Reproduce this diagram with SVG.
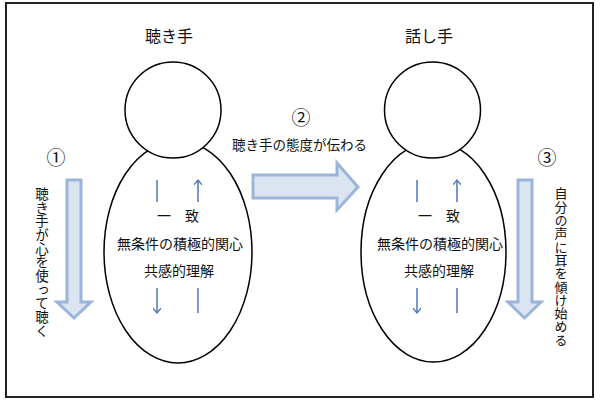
<svg xmlns="http://www.w3.org/2000/svg" width="600" height="403" viewBox="0 0 600 403">
<defs>
<style>
.t{font-family:"Noto Sans CJK JP","Noto Sans CJK SC",sans-serif;fill:#111;}
.hd{font-size:16px;text-anchor:middle;}
.in{font-size:14px;text-anchor:middle;}
.num{font-size:19px;text-anchor:middle;}
.vt{writing-mode:vertical-rl;text-orientation:upright;}
.body{fill:#fff;stroke:#000;stroke-width:1.5;}
.big{fill:#dbe5f1;stroke:#9ab5d8;stroke-width:3;stroke-linejoin:miter;}
.bl{stroke:#4a7ab5;stroke-width:1.5;fill:none;}
</style>
<marker id="ah" viewBox="0 0 10 10" refX="8" refY="5" markerWidth="8" markerHeight="8" orient="auto" markerUnits="userSpaceOnUse">
<path d="M2,0 L8,5 L2,10" fill="none" stroke="#4a7ab5" stroke-width="1.6"/>
</marker>
</defs>
<rect x="0" y="0" width="600" height="403" fill="#fff"/>
<rect x="6" y="3" width="587" height="394" fill="#fff" stroke="#222" stroke-width="2"/>

<g id="listener">
<text class="t hd" x="169" y="42">聴き手</text>
<ellipse class="body" cx="178" cy="252" rx="74" ry="111"/>
<circle class="body" cx="173" cy="110" r="48"/>
<text class="t in" x="178" y="221">一　致</text>
<text class="t in" x="180" y="249">無条件の積極的関心</text>
<text class="t in" x="179" y="276">共感的理解</text>
</g>

<g id="speaker">
<text class="t hd" x="429" y="42">話し手</text>
<ellipse class="body" cx="433.5" cy="252" rx="72.5" ry="110"/>
<circle class="body" cx="432.5" cy="110" r="48"/>
<text class="t in" x="439" y="221">一　致</text>
<text class="t in" x="440" y="249">無条件の積極的関心</text>
<text class="t in" x="439" y="276">共感的理解</text>
</g>

<g id="step1">
<text class="t num" x="56" y="165">①</text>
<path class="big" d="M67,180 L81,180 L81,302 L91,302 L74,318 L57,302 L67,302 Z"/>
<text class="t vt" x="42" y="187 200.7 214.4 228.1 241.8 255.5 269.2 282.9 296.6 310.3 324" font-size="13.5">聴き手が心を使って聴く</text>
</g>

<g id="step2">
<text class="t num" x="301" y="125">②</text>
<text class="t" x="232" y="150" font-size="13.5">聴き手の態度が伝わる</text>
<path class="big" d="M253,175 L337,175 L337,163 L358,187 L337,210 L337,198 L253,198 Z"/>
</g>

<g id="step3">
<text class="t num" x="547" y="165">③</text>
<path class="big" d="M518,180 L532,180 L532,302 L541,302 L524.5,318 L508,302 L518,302 Z"/>
<text class="t vt" x="561" y="187 200.3 213.6 226.9 240.2 253.5 266.8 280.1 293.4 306.7 320 333.3" font-size="13">自分の声に耳を傾け始める</text>
</g>

<g id="connectors">
<line class="bl" x1="157" y1="180" x2="157" y2="202"/>
<line class="bl" x1="198" y1="202" x2="198" y2="180" marker-end="url(#ah)"/>
<line class="bl" x1="157" y1="288" x2="157" y2="313" marker-end="url(#ah)"/>
<line class="bl" x1="198" y1="288" x2="198" y2="313"/>
<line class="bl" x1="417" y1="180" x2="417" y2="202"/>
<line class="bl" x1="457" y1="202" x2="457" y2="180" marker-end="url(#ah)"/>
<line class="bl" x1="417" y1="288" x2="417" y2="313" marker-end="url(#ah)"/>
<line class="bl" x1="457" y1="288" x2="457" y2="313"/>
</g>
</svg>
